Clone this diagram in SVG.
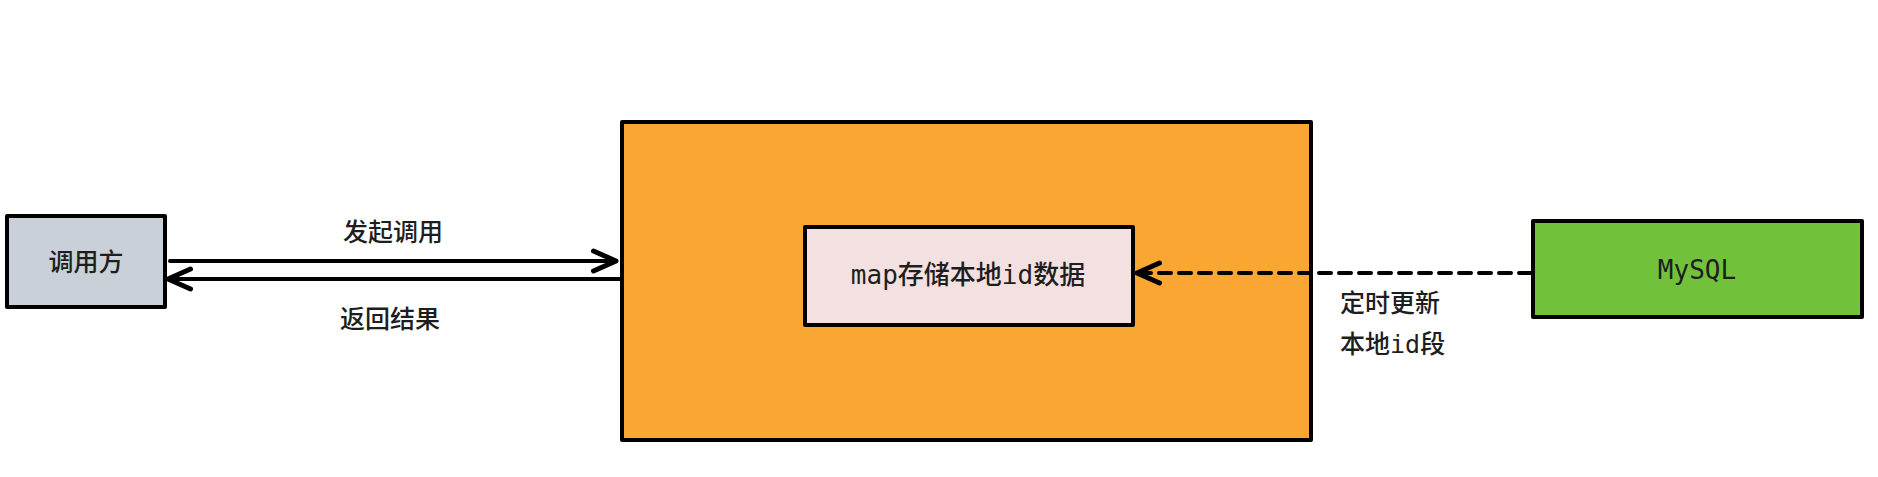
<svg xmlns="http://www.w3.org/2000/svg" width="1878" height="477" viewBox="0 0 1878 477">
<style>
.box{stroke:#000;stroke-width:4;stroke-linejoin:round}
.t{font-family:"Noto Sans","Noto Sans CJK SC",sans-serif;font-size:25px;font-weight:500;fill:#1e1e1e;text-anchor:middle;dominant-baseline:central}
.m{font-family:"DejaVu Sans Mono","Noto Sans CJK SC",monospace;font-size:26px;font-weight:500;fill:#1e1e1e;text-anchor:middle;dominant-baseline:central}
.l{font-family:"Noto Sans","Noto Sans CJK SC",sans-serif;font-size:25px;font-weight:500;fill:#1e1e1e}
.c{stroke:#000;stroke-width:4;fill:none;stroke-linecap:round}
</style>
<defs>
<marker id="ah" markerWidth="30" markerHeight="30" viewBox="-20 -10 24 20" refX="0" refY="0" orient="auto" markerUnits="userSpaceOnUse">
<polyline points="-18,-8 0,0 -18,8" fill="none" stroke="#000" stroke-width="4" stroke-linecap="round" stroke-linejoin="round"/>
</marker>
</defs>
<rect width="1878" height="477" fill="#fff"/>
<g id="caller">
<rect class="box" x="7" y="216" width="158" height="91" fill="#c9d0d8"/>
<text class="t" x="86" y="261">调用方</text>
</g>
<g id="service">
<rect class="box" x="622" y="122" width="689" height="318" fill="#f9a633"/>
</g>
<g id="map">
<rect class="box" x="805" y="227" width="328" height="98" fill="#f3e1e2"/>
<text class="m" x="968" y="275">map存储本地id数据</text>
</g>
<g id="mysql">
<rect class="box" x="1533" y="221" width="329" height="96" fill="#72c13a"/>
<text class="m" x="1697" y="270">MySQL</text>
</g>
<g id="connectors">
<line class="c" x1="170" y1="261" x2="616" y2="261" marker-end="url(#ah)"/>
<line class="c" x1="620" y1="279" x2="168" y2="279" marker-end="url(#ah)"/>
<line class="c" x1="1531" y1="273" x2="1137" y2="273" stroke-dasharray="12 8" marker-end="url(#ah)"/>
</g>
<g id="labels">
<text class="t" x="393" y="231">发起调用</text>
<text class="t" x="390" y="318">返回结果</text>
<text class="l" x="1340" y="312">定时更新</text>
<text class="l" x="1340" y="353">本地<tspan font-family="DejaVu Sans Mono,monospace">id</tspan>段</text>
</g>
</svg>
